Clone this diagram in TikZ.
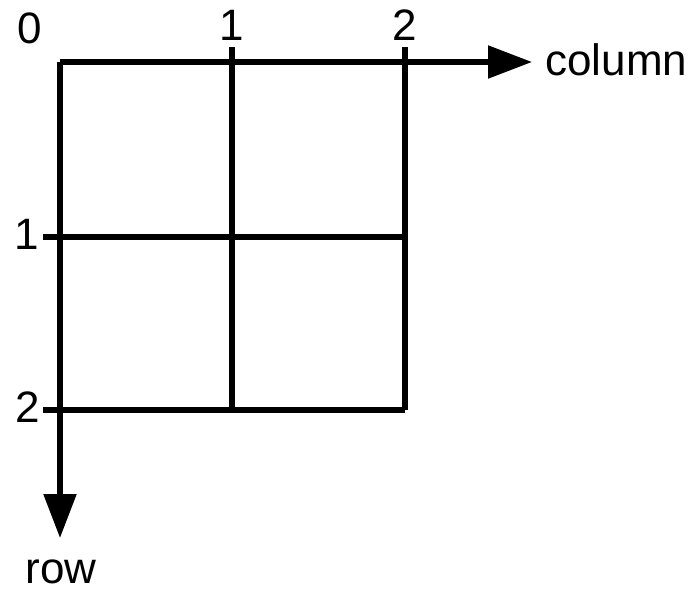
\documentclass[tikz,border=0pt]{standalone}
\usepackage{fontspec}
\setmainfont{Liberation Sans}
\usetikzlibrary{arrows.meta,positioning}

\begin{document}
\begin{tikzpicture}[x=0.5pt, y=-0.5pt, >={Triangle[length=22pt,width=16pt]},
    gl/.style={line width=2.7pt},
    lbl/.style={font=\fontsize{22}{26}\selectfont, inner sep=0pt, anchor=base}]
  \useasboundingbox (0,0) rectangle (691,590);
  % axes
  \coordinate (O) at (60,62);
  \coordinate (colend) at (532,62);
  \coordinate (rowend) at (60,538);
  \draw[gl, ->] (O) -- (colend);
  \draw[gl, ->] (O) -- (rowend);
  % grid lines with ticks
  \foreach \x/\n in {232/1, 405/2} {
    \coordinate (ct\n) at (\x,47);
    \coordinate (cb\n) at (\x,410);
    \draw[gl] (ct\n) -- (cb\n);
    \node[lbl] (cl\n) at (\x,40) {\n};
  }
  \foreach \y/\n in {237/1, 410/2} {
    \coordinate (rl\n) at (43,\y);
    \coordinate (rr\n) at (405,\y);
    \draw[gl] (rl\n) -- (rr\n);
  }
  \node[lbl] (zero) at (30,43) {0};
  \node[lbl] (r1) at (27,249) {1};
  \node[lbl] (r2) at (28,422) {2};
  \node[lbl, anchor=base west] (col) at (545,75) {column};
  \node[lbl] (row) at (61,583) {row};
\end{tikzpicture}
\end{document}
